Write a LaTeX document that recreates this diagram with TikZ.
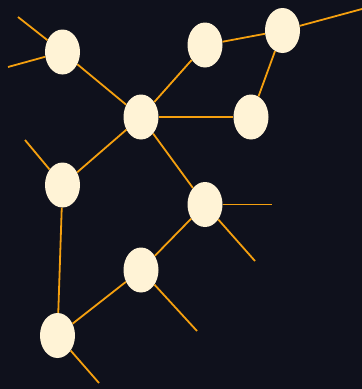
\documentclass[tikz,border=0pt]{standalone}
\usetikzlibrary{shapes.geometric}
\definecolor{bgc}{HTML}{0F111C}
\definecolor{edgec}{HTML}{F5A00F}
\definecolor{nodec}{HTML}{FFF3D6}
\tikzset{
  vert/.style={ellipse, fill=nodec, draw=none, minimum width=35pt, minimum height=45pt, inner sep=0pt},
  link/.style={edgec, line width=1.8pt}
}
\begin{document}
\begin{tikzpicture}[x=1pt,y=-1pt]
\fill[bgc] (0,0) rectangle (362,389);
\useasboundingbox (0,0) rectangle (362,389);
\node[vert] (a) at (62.5,52) {};
\node[vert] (b) at (205,45) {};
\node[vert] (c) at (282.5,30.5) {};
\node[vert] (d) at (141,117) {};
\node[vert] (e) at (251,117) {};
\node[vert] (f) at (62.5,185) {};
\node[vert] (g) at (205,204.5) {};
\node[vert] (h) at (141,270) {};
\node[vert] (i) at (57.5,335.5) {};
\coordinate (a1) at (18,17);
\coordinate (a2) at (8,67);
\coordinate (c1) at (362,9);
\coordinate (f1) at (25,140);
\coordinate (g1) at (272,204.5);
\coordinate (g2) at (255,261);
\coordinate (h1) at (197,331);
\coordinate (i1) at (99,383);
\draw[link] (a) -- (a1);
\draw[link] (a) -- (a2);
\draw[link] (a) -- (d);
\draw[link] (b) -- (d);
\draw[link] (b) -- (c);
\draw[link] (c) -- (c1);
\draw[link] (c) -- (e);
\draw[link] (d) -- (e);
\draw[link] (d) -- (f);
\draw[link] (d) -- (g);
\draw[link] (f) -- (f1);
\draw[link] (f) -- (i);
\draw[link] (g) -- (g1);
\draw[link] (g) -- (g2);
\draw[link] (g) -- (h);
\draw[link] (h) -- (h1);
\draw[link] (h) -- (i);
\draw[link] (i) -- (i1);
\end{tikzpicture}
\end{document}
